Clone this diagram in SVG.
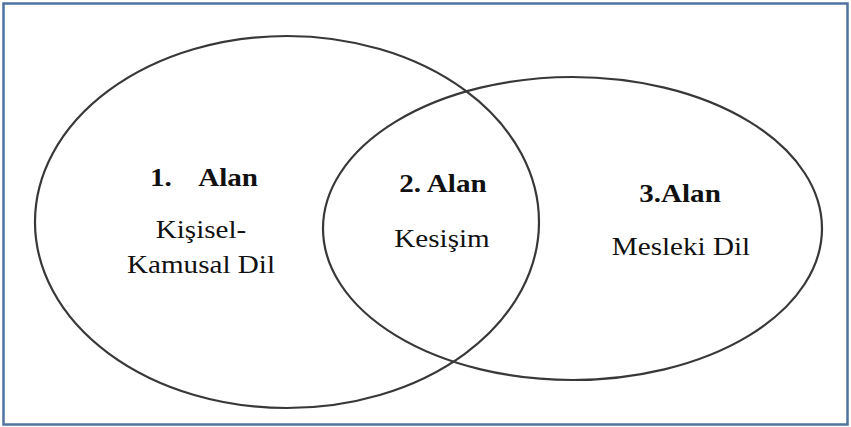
<svg xmlns="http://www.w3.org/2000/svg" width="851" height="427" viewBox="0 0 851 427">
<style>
.frame{fill:#ffffff;stroke:#50739f;stroke-width:2.5}
.set{fill:none;stroke:#383838;stroke-width:2.2}
text{font-family:'Liberation Serif','Times New Roman','DejaVu Serif',serif;font-size:26px;fill:#111}
.b{font-weight:bold}
</style>
<rect class="frame" x="3.5" y="3.5" width="844" height="421"/>
<g id="connectors"></g>
<g id="alan1">
<ellipse class="set" cx="287" cy="222" rx="252" ry="186"/>
<text class="b" font-family="Liberation Serif, serif" transform="translate(150,186) scale(1.12,1)"><tspan x="0">1.</tspan><tspan x="43">Alan</tspan></text>
<text font-family="Liberation Serif, serif" text-anchor="middle" transform="translate(201,238) scale(1.12,1)">Kişisel-</text>
<text font-family="Liberation Serif, serif" text-anchor="middle" transform="translate(201,273) scale(1.12,1)">Kamusal Dil</text>
</g>
<g id="alan3">
<ellipse class="set" cx="572.5" cy="228.5" rx="249.5" ry="151.5"/>
<text class="b" font-family="Liberation Serif, serif" text-anchor="middle" transform="translate(680,202) scale(1.12,1)">3.Alan</text>
<text font-family="Liberation Serif, serif" text-anchor="middle" transform="translate(681,255) scale(1.12,1)">Mesleki Dil</text>
</g>
<g id="alan2">
<text class="b" font-family="Liberation Serif, serif" text-anchor="middle" transform="translate(443,192) scale(1.12,1)">2. Alan</text>
<text font-family="Liberation Serif, serif" text-anchor="middle" transform="translate(442,247) scale(1.12,1)">Kesişim</text>
</g>
</svg>
